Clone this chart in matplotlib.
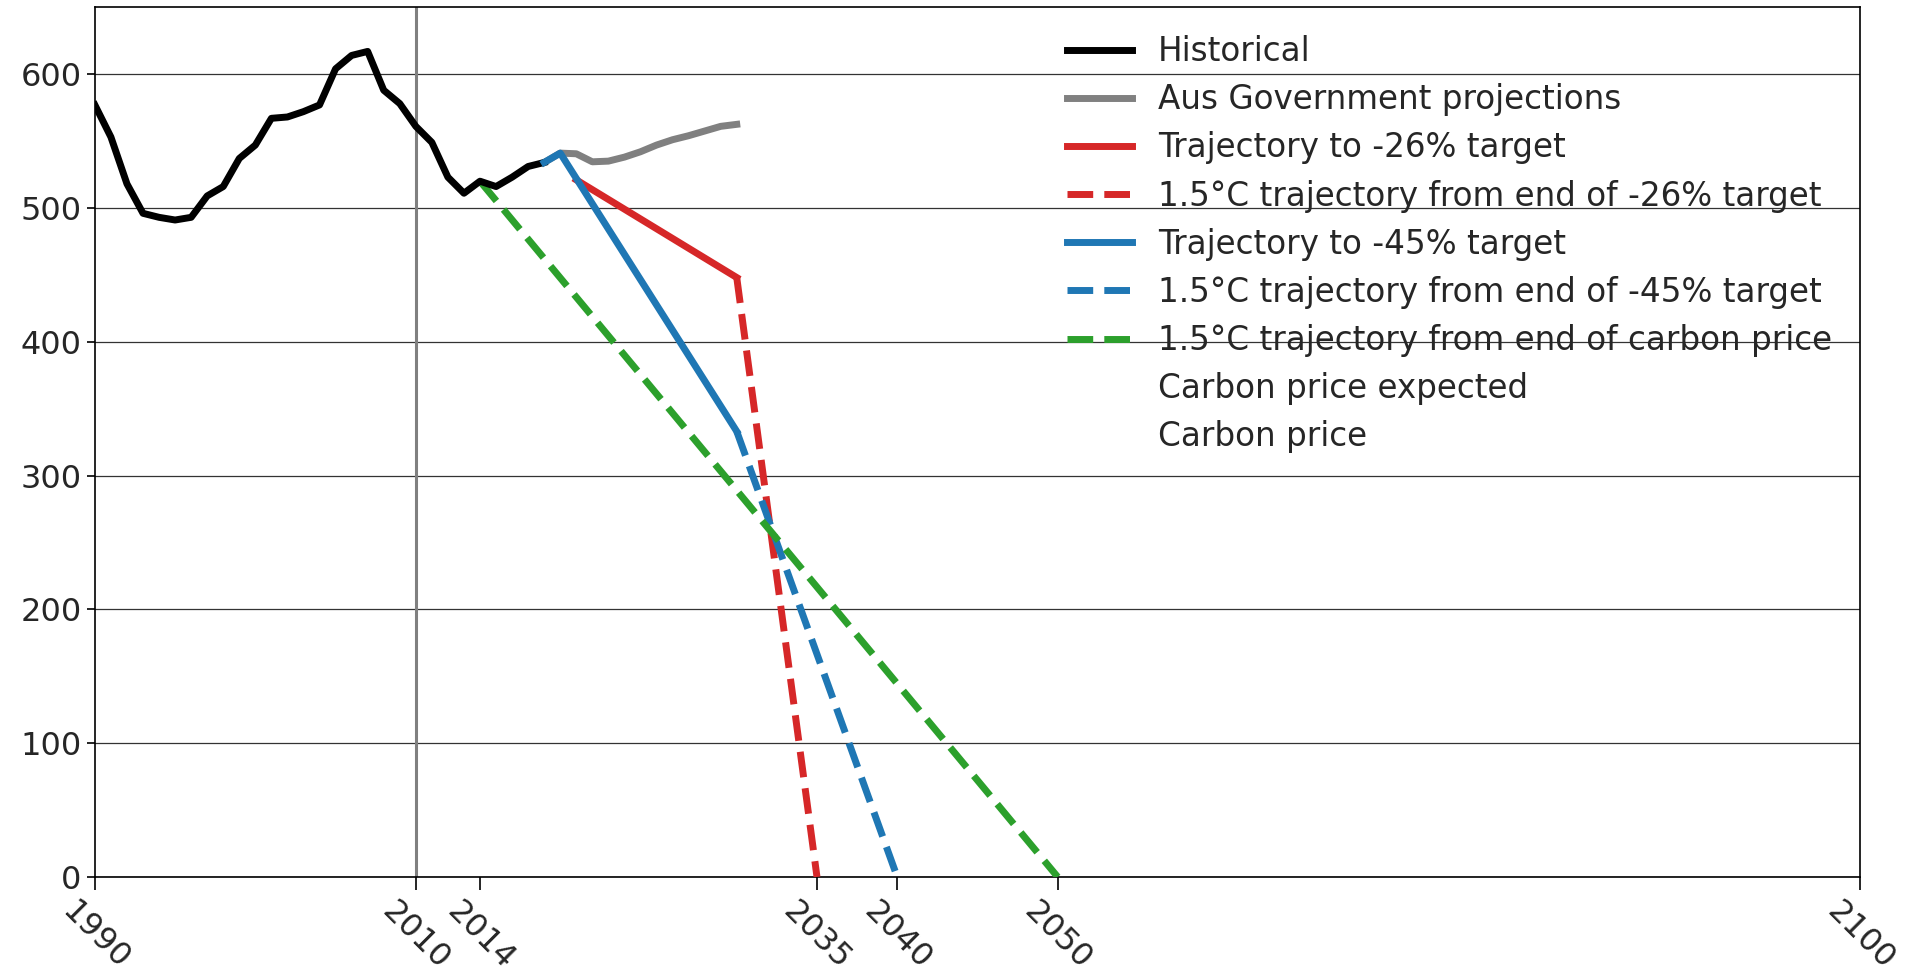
import numpy as np
import matplotlib
matplotlib.use("Agg")
import matplotlib.pyplot as plt

# historical emissions
hist_years = list(range(1990, 2019))
hist_vals = [577, 553, 518, 496, 493, 491, 493, 509, 516, 537, 547, 567, 568, 572, 577,
             604, 614, 617, 588, 578, 561, 549, 523, 511, 520, 516, 523, 531, 534]

gov_years = list(range(2018, 2031))
gov_vals = [534, 541, 540.5, 534.5, 535, 538, 542, 547, 551, 554, 557.5, 561, 562.5]

t26_years = [2020, 2030]
t26_vals = [521, 448]
t26_15_years = [2030, 2035]
t26_15_vals = [448, 0]

t45_years = [2018, 2019, 2030]
t45_vals = [534, 541, 333]
t45_15_years = [2030, 2040]
t45_15_vals = [333, 0]

cp_15_years = [2014, 2050]
cp_15_vals = [520, 0]

xticks = [1990, 2010, 2014, 2035, 2040, 2050, 2100]
yticks = [0, 100, 200, 300, 400, 500, 600]

txt = '0.15'
plt.rcParams['font.family'] = 'DejaVu Sans'

fig = plt.figure(figsize=(19.05, 9.69), dpi=100)
ax = fig.add_axes([0.0498, 0.095, 0.9266, 0.8975])

lw = 5
ax.plot(hist_years, hist_vals, color='black', lw=lw, label='Historical', zorder=4)
ax.plot(gov_years, gov_vals, color='#808080', lw=lw, label='Aus Government projections', zorder=3)
ax.plot(t26_years, t26_vals, color='#d62728', lw=lw, label='Trajectory to -26% target', zorder=3)
ax.plot(t26_15_years, t26_15_vals, color='#d62728', lw=lw, ls='--',
        label='1.5°C trajectory from end of -26% target', zorder=3)
ax.plot(t45_years, t45_vals, color='#1f77b4', lw=lw, label='Trajectory to -45% target', zorder=5)
ax.plot(t45_15_years, t45_15_vals, color='#1f77b4', lw=lw, ls='--',
        label='1.5°C trajectory from end of -45% target', zorder=3)
ax.plot(cp_15_years, cp_15_vals, color='#2ca02c', lw=lw, ls='--',
        label='1.5°C trajectory from end of carbon price', zorder=3)
ax.plot([], [], color='none', label='Carbon price expected')
ax.plot([], [], color='none', label='Carbon price')

ax.axvline(2010, color='#808080', lw=2.2, zorder=1)

ax.set_xlim(1990, 2100)
ax.set_ylim(0, 650)
ax.set_xticks(xticks)
ax.set_yticks(yticks)
ax.yaxis.grid(True, color='0.2', lw=0.9)
ax.set_axisbelow(True)

ax.tick_params(axis='both', labelsize=23, colors='black', labelcolor=txt, width=1.2)
ax.tick_params(axis='x', length=9, rotation=-45, pad=5)
ax.tick_params(axis='y', length=6)
for s in ax.spines.values():
    s.set_linewidth(1.2)
    s.set_color('black')

leg = ax.legend(loc='upper right', frameon=False, fontsize=23.5, handlelength=2.0,
                labelspacing=0.465, borderaxespad=0.45)
for t in leg.get_texts():
    t.set_color(txt)

fig.savefig('out.png', dpi=100)
